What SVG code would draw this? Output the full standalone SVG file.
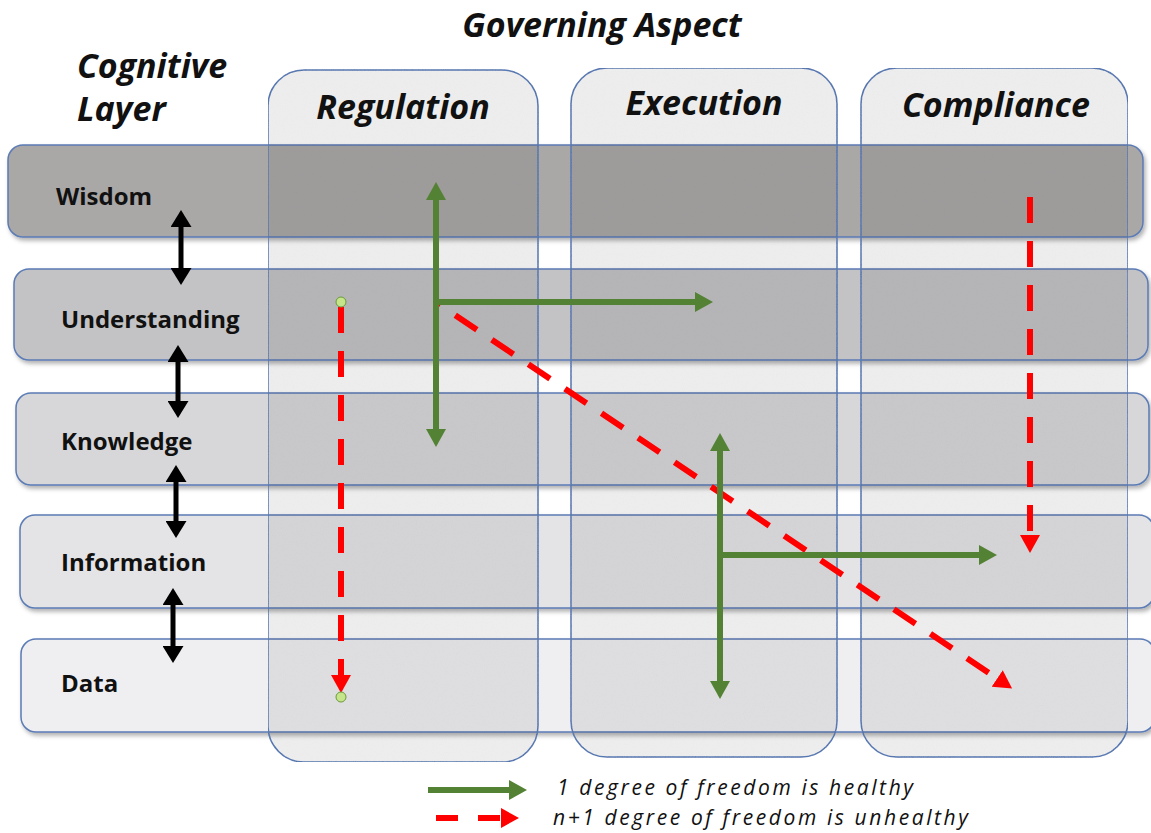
<svg xmlns="http://www.w3.org/2000/svg" width="1151" height="833" viewBox="0 0 1151 833">
<style>
.row{stroke:#5b7bb5;stroke-width:1.5}
.col{fill:#000;fill-opacity:0.07;stroke:#5b7bb5;stroke-width:1.5}
.head{font-family:"Open Sans",Lato,"Liberation Sans",sans-serif;font-weight:bold;font-style:italic;font-size:34px;fill:#111}
.lbl{font-family:"Open Sans",Lato,"Liberation Sans",sans-serif;font-weight:bold;font-size:24px;fill:#111}
.leg{font-family:"Open Sans",Lato,"Liberation Sans",sans-serif;font-style:italic;font-size:21px;fill:#111}
.g{stroke:#548235;stroke-width:6;fill:none}
.r{stroke:#ff0000;stroke-width:6;fill:none;stroke-dasharray:26 18}
.k{stroke:#000;stroke-width:5;fill:none}
</style>
<defs>
<filter id="sh" x="-5%" y="-20%" width="110%" height="140%">
<feDropShadow dx="2" dy="3" stdDeviation="2" flood-color="#000" flood-opacity="0.3"/>
</filter>
<filter id="noise" x="0" y="0" width="100%" height="100%">
<feTurbulence type="fractalNoise" baseFrequency="0.9" numOctaves="2" seed="3" result="t"/>
<feColorMatrix in="t" type="matrix" values="0 0 0 0 0  0 0 0 0 0  0 0 0 0 0  0.5 0 0 0 -0.2" result="n"/>
<feComposite in="n" in2="SourceGraphic" operator="in" result="nc"/>
<feMerge><feMergeNode in="SourceGraphic"/><feMergeNode in="nc"/></feMerge>
</filter>
<marker id="ag" markerUnits="userSpaceOnUse" viewBox="0 0 18 20" markerWidth="18" markerHeight="20" refX="1" refY="10" orient="auto-start-reverse"><path d="M0,0 L18,10 L0,20 z" fill="#548235"/></marker>
<marker id="ar" markerUnits="userSpaceOnUse" viewBox="0 0 18 20" markerWidth="18" markerHeight="20" refX="1" refY="10" orient="auto-start-reverse"><path d="M0,0 L18,10 L0,20 z" fill="#ff0000"/></marker>
<marker id="ak" markerUnits="userSpaceOnUse" viewBox="0 0 17 21" markerWidth="17" markerHeight="21" refX="1" refY="10.5" orient="auto-start-reverse"><path d="M0,0 L17,10.5 L0,21 z" fill="#000"/></marker>
</defs>
<rect width="1151" height="833" fill="#fff"/>

<g id="rows" filter="url(#sh)">
<g id="row-wisdom"><rect class="row" x="8" y="145" width="1135" height="92" rx="15" fill="#aaa7a7"/></g>
<g id="row-understanding"><rect class="row" x="14" y="269" width="1134" height="91" rx="15" fill="#c3c3c5"/></g>
<g id="row-knowledge"><rect class="row" x="16" y="393" width="1133" height="92" rx="15" fill="#d7d7d9"/></g>
<g id="row-information"><rect class="row" x="20" y="515" width="1134" height="93" rx="15" fill="#e4e4e6"/></g>
<g id="row-data"><rect class="row" x="21" y="639" width="1134" height="93" rx="15" fill="#efeff1"/></g>
</g>

<g id="columns" filter="url(#noise)">
<g id="col-regulation"><rect class="col" x="268" y="70" width="270" height="692" rx="36"/></g>
<g id="col-execution"><rect class="col" x="571" y="68" width="266" height="689" rx="36"/></g>
<g id="col-compliance"><rect class="col" x="861" y="68" width="267" height="689" rx="36"/></g>
</g>

<g id="titles">
<text class="head" x="602" y="37" text-anchor="middle">Governing Aspect</text>
<text class="head" x="77" y="78">Cognitive</text>
<text class="head" x="77" y="121">Layer</text>
<text class="head" x="403" y="119" text-anchor="middle">Regulation</text>
<text class="head" x="704" y="115" text-anchor="middle">Execution</text>
<text class="head" x="996" y="117" text-anchor="middle">Compliance</text>
</g>

<g id="labels">
<text class="lbl" x="56" y="205">Wisdom</text>
<text class="lbl" x="61" y="328">Understanding</text>
<text class="lbl" x="61" y="450">Knowledge</text>
<text class="lbl" x="61" y="571">Information</text>
<text class="lbl" x="61" y="692">Data</text>
</g>

<g id="connectors">
<line class="k" x1="181" y1="226" x2="181" y2="269" marker-start="url(#ak)" marker-end="url(#ak)"/>
<line class="k" x1="178" y1="361" x2="178" y2="402" marker-start="url(#ak)" marker-end="url(#ak)"/>
<line class="k" x1="176" y1="481" x2="176" y2="522" marker-start="url(#ak)" marker-end="url(#ak)"/>
<line class="k" x1="173" y1="604" x2="173" y2="647" marker-start="url(#ak)" marker-end="url(#ak)"/>

<line class="r" x1="341" y1="307" x2="341" y2="676" marker-end="url(#ar)"/>
<line class="r" x1="437" y1="303" x2="998" y2="679" stroke-dashoffset="22" marker-end="url(#ar)"/>
<line class="r" x1="1030" y1="197" x2="1030" y2="536" marker-end="url(#ar)"/>

<line class="g" x1="436" y1="199" x2="436" y2="430" marker-start="url(#ag)" marker-end="url(#ag)"/>
<line class="g" x1="436" y1="302" x2="696" y2="302" marker-end="url(#ag)"/>
<line class="g" x1="720" y1="450" x2="720" y2="682" marker-start="url(#ag)" marker-end="url(#ag)"/>
<line class="g" x1="720" y1="555" x2="980" y2="555" marker-end="url(#ag)"/>

<circle cx="341" cy="302" r="5" fill="#c6e48a" stroke="#6a9a3a" stroke-width="1"/>
<circle cx="341" cy="697" r="5" fill="#c6e48a" stroke="#6a9a3a" stroke-width="1"/>
</g>

<g id="legend">
<line class="g" x1="428" y1="790" x2="510" y2="790" marker-end="url(#ag)"/>
<line class="r" x1="436" y1="818" x2="502" y2="818" style="stroke-dasharray:22 20" marker-end="url(#ar)"/>
<text class="leg" x="557" y="795" textLength="356" lengthAdjust="spacing">1 degree of freedom is healthy</text>
<text class="leg" x="553" y="825" textLength="415" lengthAdjust="spacing">n+1 degree of freedom is unhealthy</text>
</g>
</svg>
